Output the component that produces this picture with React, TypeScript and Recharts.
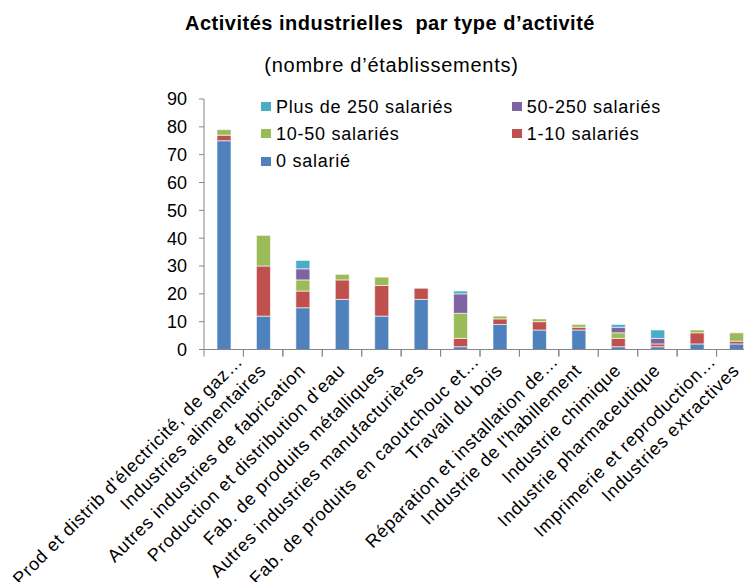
import React from 'react';
import { BarChart, Bar, XAxis, YAxis } from 'recharts';

const categories = [
  "Prod et distrib d'électricité, de gaz…",
  'Industries alimentaires',
  'Autres industries de fabrication',
  "Production et distribution d'eau",
  'Fab. de produits métalliques',
  'Autres industries manufacturières',
  'Fab. de produits en caoutchouc et…',
  'Travail du bois',
  'Réparation et installation de…',
  "Industrie de l'habillement",
  'Industrie chimique',
  'Industrie pharmaceutique',
  'Imprimerie et reproduction…',
  'Industries extractives',
];

const salarie0 = [75, 12, 15, 18, 12, 18, 1, 9, 7, 7, 1, 1, 2, 2];
const salaries1to10 = [2, 18, 6, 7, 11, 4, 3, 2, 3, 1, 3, 1, 4, 1];
const salaries10to50 = [2, 11, 4, 2, 3, 0, 9, 1, 1, 1, 2, 0, 1, 3];
const salaries50to250 = [0, 0, 4, 0, 0, 0, 7, 0, 0, 0, 2, 2, 0, 0];
const salariesPlus250 = [0, 0, 3, 0, 0, 0, 1, 0, 0, 0, 1, 3, 0, 0];

const yTicks = [0, 10, 20, 30, 40, 50, 60, 70, 80, 90];

const seriesNames = ['0 salarié', '1-10 salariés', '10-50 salariés', '50-250 salariés', 'Plus de 250 salariés'];
const seriesKeys = ['s0', 's1', 's10', 's50', 's250'];
const seriesColors = ['#4F81BD', '#C0504D', '#9BBB59', '#8064A2', '#4BACC6'];
const legendOrder = [4, 3, 2, 1, 0];

const title = 'Activités industrielles  par type d’activité';
const subtitle = '(nombre d’établissements)';

const data = categories.map((name, i) => ({
  name,
  s0: salarie0[i],
  s1: salaries1to10[i],
  s10: salaries10to50[i],
  s50: salaries50to250[i],
  s250: salariesPlus250[i],
}));

const FONT = '"Liberation Sans", Arial, sans-serif';
const CHART_W = 770;
const CHART_H = 582;
const MARGIN = { top: 99, right: 14, bottom: 0, left: 0 };
const Y_W = 204;
const X_H = 232.5;
const BAND = (CHART_W - MARGIN.left - MARGIN.right - Y_W) / categories.length;

const XTick = (props: any) => {
  const { x, y, payload } = props;
  const bx = x - BAND / 2;
  const label = String(payload.value);
  const truncated = label.endsWith('…');
  const ax = x + (truncated ? 20 : 4);
  const ay = y + (truncated ? 13 : 22);
  return (
    <g>
      <line x1={bx} y1={y} x2={bx} y2={y + 7} stroke="#868686" strokeWidth={1} />
      <line x1={bx + BAND} y1={y} x2={bx + BAND} y2={y + 7} stroke="#868686" strokeWidth={1} />
      <text
        x={ax}
        y={ay}
        transform={`rotate(-45, ${ax}, ${ay})`}
        textAnchor="end"
        fontSize={18}
        fontFamily={FONT}
        fill="#000"
        style={{ letterSpacing: '0.75px' }}
      >
        {label}
      </text>
    </g>
  );
};

export default function App() {
  return (
    <div
      style={{
        position: 'fixed',
        left: 0,
        top: 0,
        width: 744,
        height: 582,
        overflow: 'hidden',
        background: '#fff',
        fontFamily: FONT,
      }}
    >
      <BarChart width={CHART_W} height={CHART_H} data={data} margin={MARGIN}>
        <XAxis
          dataKey="name"
          interval={0}
          height={X_H}
          tickLine={false}
          tickSize={0}
          tickMargin={0}
          axisLine={{ stroke: '#868686' }}
          tick={<XTick />}
        />
        <YAxis
          width={Y_W}
          domain={[0, 90]}
          ticks={yTicks}
          interval={0}
          tickSize={5}
          tickMargin={12}
          axisLine={{ stroke: '#868686' }}
          tickLine={{ stroke: '#868686' }}
          tick={{ fontSize: 18, fill: '#000', fontFamily: FONT }}
        />
        {seriesKeys.map((k, i) => (
          <Bar
            key={k}
            dataKey={k}
            name={seriesNames[i]}
            stackId="a"
            fill={seriesColors[i]}
            stroke="#fff"
            strokeWidth={0.6}
            barSize={14}
            isAnimationActive={false}
          />
        ))}
      </BarChart>
      <div
        style={{
          position: 'absolute',
          left: 0,
          width: 780,
          top: 12.6,
          textAlign: 'center',
          fontSize: 20,
          lineHeight: '20px',
          fontWeight: 'bold',
          letterSpacing: '0.5px',
          color: '#000',
          whiteSpace: 'pre',
        }}
      >
        {title}
      </div>
      <div
        style={{
          position: 'absolute',
          left: 0,
          width: 783,
          top: 55,
          textAlign: 'center',
          fontSize: 20,
          lineHeight: '20px',
          letterSpacing: '0.75px',
          color: '#000',
          whiteSpace: 'pre',
        }}
      >
        {subtitle}
      </div>
      <div
        style={{
          position: 'absolute',
          left: 261,
          top: 93,
          display: 'grid',
          gridTemplateColumns: '250.7px 230px',
          gridAutoRows: '27.3px',
          alignItems: 'center',
        }}
      >
        {legendOrder.map((idx) => (
          <div key={idx} style={{ display: 'flex', alignItems: 'center' }}>
            <span
              style={{
                display: 'inline-block',
                width: 10,
                height: 9,
                background: seriesColors[idx],
                marginRight: 5,
              }}
            />
            <span style={{ fontSize: 18, letterSpacing: '0.75px', color: '#000', lineHeight: '20px' }}>
              {seriesNames[idx]}
            </span>
          </div>
        ))}
      </div>
    </div>
  );
}
